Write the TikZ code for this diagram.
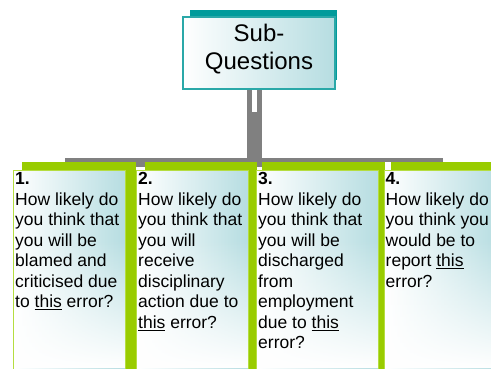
\documentclass[tikz,border=0pt]{standalone}
\usepackage{fontspec}
\setmainfont{Liberation Sans}
\usetikzlibrary{fadings,calc}
\definecolor{lgreen}{HTML}{99CC00}
\definecolor{bgreen}{HTML}{B5DD40}
\definecolor{teal1}{HTML}{009B9B}
\definecolor{teal2}{HTML}{2AA8A8}
\definecolor{tlight}{HTML}{B6DDE1}
\definecolor{conn}{HTML}{808080}
\newcommand\myul[1]{\leavevmode\setbox0\hbox{#1}\rlap{\rule[-2.6pt]{\wd0}{1.3pt}}\box0\relax}
\tikzfading[name=fadeup, top color=transparent!100, bottom color=transparent!0]
\tikzset{
  shadowbox/.style={fill=lgreen, draw=none},
  frontbox/.style={draw=bgreen, line width=1pt, left color=white, right color=tlight},
  cardtext/.style={anchor=north west, align=left, inner sep=0pt,
    font=\fontsize{17.5}{20.5}\selectfont},
  connfill/.style={fill=conn, draw=none},
}
\begin{document}
\begin{tikzpicture}[x=1pt,y=-1pt]
\useasboundingbox (0,0) rectangle (491,368);
\fill[white] (0,0) rectangle (491,368);

% connector (under everything)
\fill[connfill] (247,88) rectangle (252,113);
\fill[connfill] (257,88) rectangle (262,113);
\fill[connfill] (247,112) rectangle (262,167);
\fill[connfill] (65,158) rectangle (443,162);
\fill[connfill] (134,158) rectangle (146,167);

% top box
\fill[teal1] (190,10) rectangle (337,80);
\node[draw=teal2, line width=1.5pt, left color=white, right color=tlight,
  minimum width=152, minimum height=72, anchor=north west, inner sep=0pt]
  (top) at (182,16) {};
\node[align=center, inner sep=0pt, font=\fontsize{24}{28}\selectfont]
  (toptext) at (259,49) {Sub-\\Questions};

% card shadows
\fill[shadowbox] (22,162) rectangle (136,370);
\fill[shadowbox] (145,162) rectangle (257,370);
\fill[shadowbox] (262,162) rectangle (385,370);
\fill[shadowbox] (391,162) rectangle (495,370);

% card fronts
\node[frontbox, minimum width=112, minimum height=205, anchor=north west, inner sep=0pt] (f1) at (13,170) {};
\node[frontbox, minimum width=112, minimum height=205, anchor=north west, inner sep=0pt] (f2) at (136,170) {};
\node[frontbox, minimum width=122, minimum height=205, anchor=north west, inner sep=0pt] (f3) at (256,170) {};
\node[frontbox, minimum width=115, minimum height=205, anchor=north west, inner sep=0pt] (f4) at (384,170) {};

% bottom fade to white
\foreach \a/\b in {14/124.5,137/247.5,257/377.5,385/491}{
  \fill[white, path fading=fadeup] (\a,240) rectangle (\b,368);
}
\draw[bgreen, line width=1pt] (13,170) -- (13,370);
\draw[bgreen, line width=1pt] (136,170) -- (136,370);
\draw[bgreen, line width=1pt] (256,170) -- (256,370);
\draw[bgreen, line width=1pt] (384,170) -- (384,370);

% texts
\node[cardtext] (t1) at (15,172.5) {\textbf{1.}\\How likely do\\you think that\\you will be\\blamed and\\criticised due\\to \myul{this} error?};
\node[cardtext] (t2) at (138,172.5) {\textbf{2.}\\How likely do\\you think that\\you will\\receive\\disciplinary\\action due to\\\myul{this} error?};
\node[cardtext] (t3) at (258,172.5) {\textbf{3.}\\How likely do\\you think that\\you will be\\discharged\\from\\employment\\due to \myul{this}\\error?};
\node[cardtext] (t4) at (385.5,172.5) {\textbf{4.}\\How likely do\\you think you\\would be to\\report \myul{this}\\error?};
\end{tikzpicture}
\end{document}
